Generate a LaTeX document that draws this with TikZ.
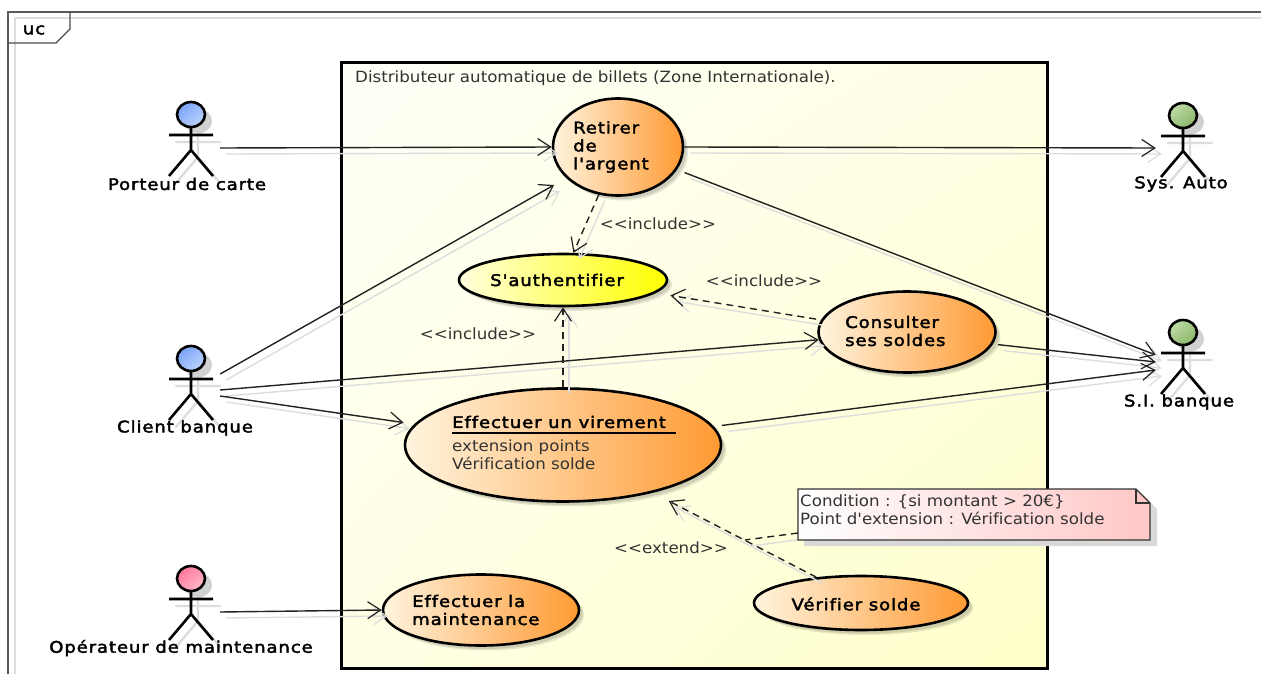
\documentclass[tikz,border=0pt]{standalone}
\usepackage{fontspec}
\setmainfont{DejaVu Sans}
\newfontfamily\medfam[FakeBold=2.4,FakeStretch=1.13,LetterSpace=5.5,Ligatures=NoCommon]{DejaVu Sans}
\newfontfamily\regfam[FakeStretch=1.075,Ligatures=NoCommon]{DejaVu Sans}
\usetikzlibrary{arrows.meta,shapes.geometric,shadows,shadings,calc}
\definecolor{lineC}{HTML}{222222}
\definecolor{shadowC}{HTML}{DDDDDD}
\definecolor{txtC}{HTML}{333333}
\definecolor{orange1}{HTML}{FF9A33}
\definecolor{cream1}{HTML}{FFF4DE}
\definecolor{yellowlight}{HTML}{FFFFDD}
\definecolor{blueA}{HTML}{6D9BF5}\definecolor{blueB}{HTML}{CADCFF}
\definecolor{greenA}{HTML}{C9E3B4}\definecolor{greenB}{HTML}{7FAE5A}
\definecolor{pinkA}{HTML}{FF6A90}\definecolor{pinkB}{HTML}{FFC4D4}
\tikzset{
  bold txt/.style={font=\fontsize{16pt}{18pt}\medfam,text=black,inner sep=0pt,align=left},
  plain txt/.style={font=\fontsize{15.5pt}{18pt}\regfam,text=txtC,inner sep=0pt,align=left},
  usecase/.style={ellipse,draw=black,line width=2.6pt,inner sep=0pt,
    left color=#1,right color=orange1,
    general shadow={fill=black,opacity=.1,shadow xshift=5pt,shadow yshift=-5pt},
    general shadow={fill=black,opacity=.1,shadow xshift=3.5pt,shadow yshift=-3.5pt}},
  usecase/.default=cream1,
  assoc/.style={line width=1.4pt,draw=lineC,-{Straight Barb[length=13pt,width=17pt,line width=1.2pt]}},
  depend/.style={assoc,dash pattern=on 7pt off 5pt},
  link/.style={line width=1.4pt,draw=lineC,dash pattern=on 7pt off 5pt},
  shadowline/.style={transform canvas={shift={(6pt,-6pt)}},draw=shadowC,dash pattern=on 1000pt off 0pt},
  actorbox/.style={minimum width=58pt,minimum height=74pt,inner sep=0pt},
  edgeA/.style={shorten <=8pt},
  edgeB/.style={shorten <=5pt},
}
% #1 name, #2 x centre, #3 head top y, #4 #5 head colours
\newcommand{\umlactor}[5]{%
  \begin{scope}[shift={(#2,#3)}]
    \draw[shadowC,line width=2.4pt,line cap=round,shift={(7,7)}]
      (-22,33)--(22,33) (0,25)--(0,48) (-22,74)--(0,48)--(22,74);
    \fill[black!18] (7,19) ellipse[x radius=14,y radius=12.5];
    \shade[upper left=#4,upper right=#4!50!#5,lower left=#4!50!#5,lower right=#5]
       (0,12.5) ellipse[x radius=14,y radius=12.5];
    \draw[black,line width=2.6pt] (0,12.5) ellipse[x radius=14,y radius=12.5];
    \draw[black,line width=2.6pt]
      (-22,33)--(22,33) (0,25)--(0,48) (-22,74)--(0,48)--(22,74);
  \end{scope}
  \node[actorbox] (#1) at (#2,#3+38) {};
}
% all connectors; #1 = extra style for every line
\newcommand{\allconnectors}[1]{%
\draw[assoc,#1] ([yshift=-8pt]porteur.east) -- (retirer.180);
\draw[assoc,#1] (retirer.0) -- ([shift={(2pt,-7pt)}]sysauto.west);
\draw[assoc,#1,edgeA] (retirer.-21) -- ([shift={(2pt,3pt)}]sibanque.west);
\draw[assoc,#1,shorten >=14pt] ([yshift=10pt]client.east) -- (retirer.211);
\draw[assoc,#1] ([yshift=-6pt]client.east) -- (consulter.185);
\draw[assoc,#1,shorten >=11pt] ([yshift=-12pt]client.east) -- (virement.172);
\draw[assoc,#1,edgeB] (consulter.-8) -- ([shift={(2pt,-4pt)}]sibanque.west);
\draw[assoc,#1,edgeA] (virement.7) -- ([shift={(2pt,-12pt)}]sibanque.west);
\draw[assoc,#1] ([yshift=-8pt]operateur.east) -- (maint.180);
\draw[depend,#1] (retirer.-112) -- (auth.69);
\draw[depend,#1,edgeB,shorten >=15pt] (consulter.172) -- (auth.-8);
\draw[depend,#1] (virement.north) -- (auth.south);
\draw[depend,#1,shorten >=18pt] (verifier.150.5) -- (virement.-28);
\draw[link,#1] (notew) -- (mid);
}
\begin{document}
\begin{tikzpicture}[x=1pt,y=-1pt]
\useasboundingbox (0,0) rectangle (1261,674);
\fill[white] (0,0) rectangle (1261,674);
% outer frame
\draw[shadowC,line width=1.2pt] (15,674)--(15,18)--(1261,18);
\draw[black!65,line width=1.4pt] (8,674)--(8,12)--(1261,12);
\draw[black!70,line width=1.4pt] (8,43)--(56,43)--(70,29)--(70,12);
\node[bold txt,anchor=center] (frametag) at (34,30) {uc};
% system box
\shade[upper left=yellow!3,upper right=yellow!10,lower left=yellow!10,lower right=yellow!21] (341,63) rectangle (1047,668);
\draw[black,line width=3pt] (341,63) rectangle (1047,668);
\node[plain txt,anchor=west] (systitle) at (355,78) {Distributeur automatique de billets (Zone Internationale).};
% named use cases
\node[usecase,minimum width=130pt,minimum height=97pt] (retirer) at (618,147) {};
\node[usecase=yellowlight,right color=yellow,minimum width=208pt,minimum height=52pt] (auth) at (563,280) {};
\node[usecase,minimum width=177pt,minimum height=81pt] (consulter) at (907,332) {};
\node[usecase,minimum width=316pt,minimum height=113pt] (virement) at (563,445) {};
\node[usecase,minimum width=196pt,minimum height=71pt] (maint) at (481,610) {};
\node[usecase,minimum width=214pt,minimum height=54pt] (verifier) at (861,603) {};
% actors
\umlactor{porteur}{191}{102}{blueA}{blueB}
\umlactor{client}{191}{346}{blueA}{blueB}
\umlactor{operateur}{191}{566}{pinkA}{pinkB}
\umlactor{sysauto}{1183}{103}{greenA}{greenB}
\umlactor{sibanque}{1183}{320}{greenA}{greenB}
\node[bold txt] (lporteur) at (187,184) {Porteur de carte};
\node[bold txt] (lclient) at (185,428) {Client banque};
\node[bold txt] (loperateur) at (181,648) {Opérateur de maintenance};
\node[bold txt] (lsysauto) at (1181,184) {Sys. Auto};
\node[bold txt] (lsibanque) at (1179,402) {S.I. banque};
% free ends of the note link
\coordinate (mid) at (745,540);
\coordinate (notew) at (798,533);
% connectors and their shadows
\allconnectors{shadowline}
% note
\fill[black!15] (804,495)--(1143,495)--(1157,509)--(1157,546)--(804,546)--cycle;
\shade[left color=white,right color=red!22] (798,489)--(1136,489)--(1150,503)--(1150,540)--(798,540)--cycle;
\draw[black!80,line width=1.3pt] (798,489)--(1136,489)--(1150,503)--(1150,540)--(798,540)--cycle;
\draw[black!80,line width=1.3pt] (1136,489)--(1136,503)--(1150,503);
\node[plain txt,anchor=north west,inner sep=0pt] (note) at (800,495) {Condition : \{si montant > 20€\}\\Point d'extension : Vérification solde};
\allconnectors{}
% use case texts
\node[bold txt,anchor=west] (t1) at (573,147) {Retirer\\de\\l'argent};
\node[bold txt] (t2) at (557,280) {S'authentifier};
\node[bold txt,anchor=west] (t3) at (845,331) {Consulter\\ses soldes};
\node[bold txt,anchor=west] (t4) at (452,422) {Effectuer un virement};
\draw[black,line width=1.5pt] (452,433)--(676,433);
\node[plain txt,anchor=west] (t5) at (452,455) {extension points\\Vérification solde};
\node[bold txt,anchor=west] (t6) at (412,610) {Effectuer la\\maintenance};
\node[bold txt] (t7) at (856,604) {Vérifier solde};
% stereotypes
\node[plain txt] (s1) at (658,224) {<{}<include>{}>};
\node[plain txt] (s2) at (764,281) {<{}<include>{}>};
\node[plain txt] (s3) at (478,334) {<{}<include>{}>};
\node[plain txt] (s4) at (671,548) {<{}<extend>{}>};
\end{tikzpicture}
\end{document}
